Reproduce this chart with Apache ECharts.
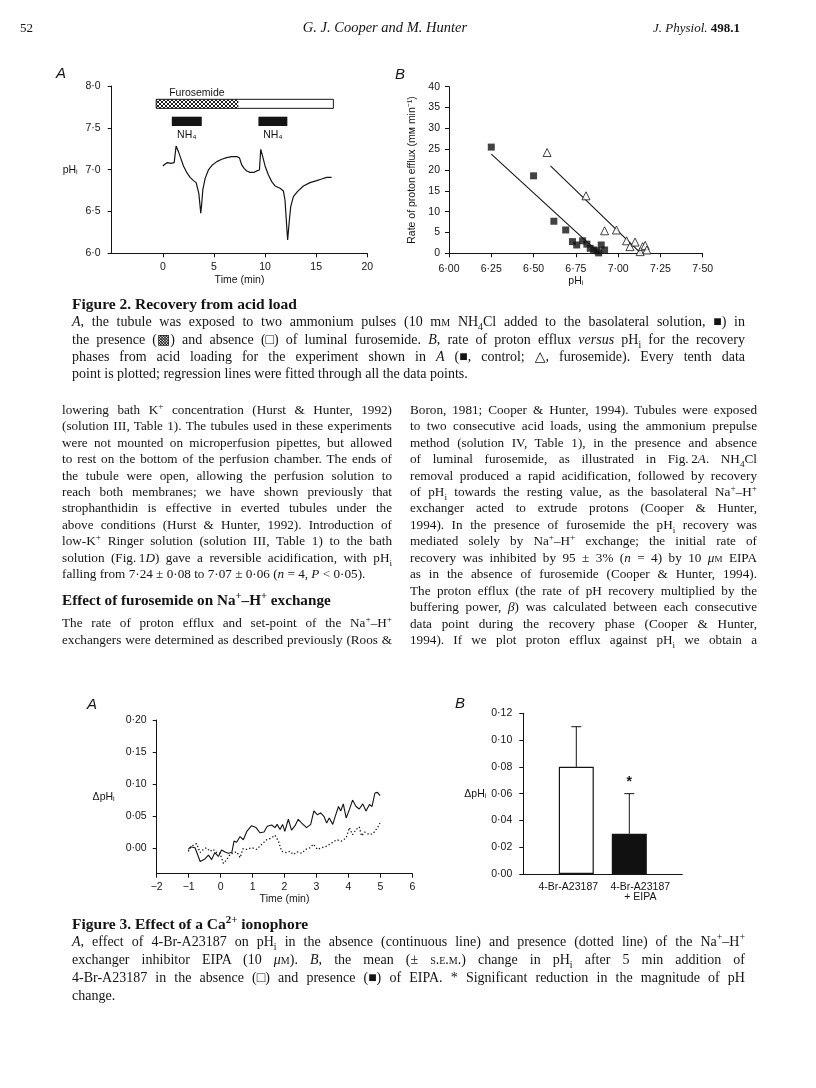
<!DOCTYPE html>
<html><head><meta charset="utf-8">
<script src="https://cdn.jsdelivr.net/npm/echarts@6/dist/echarts.min.js"></script>
<style>
html,body{margin:0;padding:0;background:#fff;}
#page{position:relative;width:816px;height:1088px;overflow:hidden;background:#fff;}
#chart{position:absolute;left:0;top:0;width:816px;height:1088px;}
.t{position:absolute;white-space:pre;line-height:1;color:#141414;font-family:"Liberation Serif","DejaVu Serif",serif;transform-origin:0 0;}
.t sup,.t sub{line-height:0;font-size:70%;}
.body{font-size:13.2px;}
.cap{font-size:14px;}
.capt{font-size:15.5px;font-weight:bold;}
.head{font-size:15.2px;font-weight:bold;}
.hdr{font-size:13px;}
.hdrm{font-size:14.5px;}
.sc{font-variant:small-caps;}
</style></head>
<body><div id="page"><div id="chart"></div></div>
<script>
// ---------- Figure 2A data (time in min, pHi) ----------
const fig2aTime = [0.00,0.23,0.46,0.78,1.11,1.30,1.53,1.76,2.02,2.35,2.67,3.00,3.26,3.39,3.52,3.65,3.71,3.81,3.91,4.14,4.46,4.85,5.28,5.77,6.25,6.74,7.23,7.49,7.72,7.95,8.21,8.53,8.93,9.25,9.45,9.58,9.77,10.00,10.33,10.65,10.98,11.47,11.79,11.95,12.12,12.21,12.35,12.51,12.77,13.16,13.75,14.40,15.05,15.54,16.03,16.51];
const fig2aPH   = [7.044,7.068,7.084,7.076,7.084,7.283,7.215,7.135,7.044,6.964,6.908,6.869,6.845,6.829,6.717,6.558,6.478,6.598,6.757,6.896,6.996,7.056,7.096,7.124,7.143,7.155,7.155,7.143,7.056,7.016,6.984,6.968,6.968,6.988,6.996,7.243,7.155,7.044,6.936,6.857,6.805,6.777,6.745,6.637,6.319,6.159,6.359,6.558,6.677,6.737,6.805,6.845,6.869,6.888,6.908,6.908];
const fig2aXTicks = [0,5,10,15,20];
const furoBar = [-0.65, 7.39, 16.68];
const furoBand = [7.733, 7.841];
const nh4Start = [0.88, 9.35];
const nh4End = [3.81, 12.18];
const nh4Band = [7.522, 7.633];
const nh4LabelPH = 7.414;
const furoLabel = [0.62, 7.913];

// ---------- Figure 2B data (pHi, proton efflux) ----------
const ctrlPH   = [6.25,6.50,6.62,6.69,6.73,6.755,6.79,6.815,6.835,6.855,6.875,6.885,6.90,6.92];
const ctrlRate = [25.5,18.6,7.7,5.6,2.8,2.0,3.0,2.2,1.2,0.8,0.6,0.1,2.0,0.8];
const furoPH   = [6.58,6.81,6.92,6.99,7.05,7.07,7.10,7.13,7.145,7.16,7.17];
const furoRate = [24.2,13.8,5.4,5.6,3.0,1.6,2.7,0.4,1.6,1.9,0.8];
const ctrlFitPH = [6.25,6.89], ctrlFitRate = [23.8,0];
const furoFitPH = [6.60,7.135], furoFitRate = [21.0,0];

// ---------- Figure 3A data (time in min, delta pHi) ----------
const ionoTime = [-1.01,-0.94,-0.80,-0.64,-0.49,-0.38,-0.28,-0.18,-0.07,0.03,0.14,0.24,0.35,0.42,0.50,0.61,0.71,0.82,0.97,1.11,1.23,1.36,1.46,1.60,1.70,1.77,1.86,1.94,2.01,2.12,2.22,2.33,2.43,2.54,2.69,2.82,2.92,3.03,3.13,3.24,3.32,3.40,3.51,3.59,3.69,3.76,3.84,3.93,4.03,4.13,4.24,4.34,4.45,4.55,4.66,4.74,4.83,4.91,4.99];
const ionoDPH  = [-0.002,0.002,0.0005,-0.021,-0.017,-0.011,-0.018,-0.007,-0.013,-0.003,-0.006,-0.008,-0.007,0.011,0.009,0.018,0.013,0.026,0.035,0.032,0.024,0.025,0.034,0.036,0.032,0.037,0.029,0.037,0.026,0.045,0.028,0.035,0.045,0.039,0.032,0.037,0.058,0.052,0.055,0.049,0.039,0.047,0.037,0.050,0.065,0.058,0.069,0.047,0.060,0.075,0.065,0.061,0.069,0.058,0.068,0.065,0.086,0.087,0.082];
const eipaTime = [-1.01,-0.91,-0.75,-0.64,-0.54,-0.44,-0.33,-0.23,-0.13,-0.02,0.09,0.19,0.30,0.40,0.51,0.61,0.70,0.82,0.98,1.13,1.29,1.44,1.60,1.70,1.81,1.91,2.05,2.17,2.28,2.40,2.54,2.67,2.80,2.90,3.03,3.16,3.32,3.48,3.63,3.79,3.93,4.03,4.13,4.24,4.34,4.41,4.51,4.66,4.78,4.91,4.99];
const eipaDPH  = [-0.005,0.003,0.007,-0.007,-0.002,0.0005,-0.005,-0.002,-0.007,-0.008,-0.024,-0.018,-0.010,-0.007,-0.006,-0.015,-0.001,-0.002,0.0005,-0.002,0.006,0.013,0.016,0.020,0.011,-0.005,-0.007,-0.005,-0.010,-0.006,-0.008,-0.002,0.0005,0.006,-0.002,0.0005,0.003,0.008,0.013,0.011,0.016,0.032,0.021,0.029,0.033,0.019,0.025,0.021,0.023,0.032,0.039];
const fig3aYTicks = [0,0.05,0.10,0.15,0.20];

// ---------- Figure 3B data ----------
const barCats  = ['4-Br-A23187', '4-Br-A23187\n+ EIPA'];
const barMeans = [0.08, 0.03];
const barSEM   = [0.03, 0.03];
const barColors = ['#ffffff', '#111111'];
const sigMark = ['', '*'];

// ---------- page text ----------
const headerLeft = '52';
const headerMid = '<i>G. J. Cooper and M. Hunter</i>';
const headerRight = '<i>J. Physiol.</i> <b>498.1</b>';
const fig2Title = 'Figure 2. Recovery from acid load';
const fig2Caption = [
 '<i>A</i>, the tubule was exposed to two ammonium pulses (10 m<span class="sc">m</span> NH<sub>4</sub>Cl added to the basolateral solution, ■) in',
 'the presence (▩) and absence (□) of luminal furosemide. <i>B</i>, rate of proton efflux <i>versus</i> pH<sub>i</sub> for the recovery',
 'phases from acid loading for the experiment shown in <i>A</i> (■, control; △, furosemide). Every tenth data',
 'point is plotted; regression lines were fitted through all the data points.'];
const leftCol = [
 'lowering bath K<sup>+</sup> concentration (Hurst &amp; Hunter, 1992)',
 '(solution III, Table 1). The tubules used in these experiments',
 'were not mounted on microperfusion pipettes, but allowed',
 'to rest on the bottom of the perfusion chamber. The ends of',
 'the tubule were open, allowing the perfusion solution to',
 'reach both membranes; we have shown previously that',
 'strophanthidin is effective in everted tubules under the',
 'above conditions (Hurst &amp; Hunter, 1992). Introduction of',
 'low-K<sup>+</sup> Ringer solution (solution III, Table 1) to the bath',
 'solution (Fig.\u20091<i>D</i>) gave a reversible acidification, with pH<sub>i</sub>',
 'falling from 7·24 ± 0·08 to 7·07 ± 0·06 (<i>n</i> = 4, <i>P</i> &lt; 0·05).'];
const leftHeading = 'Effect of furosemide on Na<sup>+</sup>–H<sup>+</sup> exchange';
const leftCol2 = [
 'The rate of proton efflux and set-point of the Na<sup>+</sup>–H<sup>+</sup>',
 'exchangers were determined as described previously (Roos &amp;'];
const rightCol = [
 'Boron, 1981; Cooper &amp; Hunter, 1994). Tubules were exposed',
 'to two consecutive acid loads, using the ammonium prepulse',
 'method (solution IV, Table 1), in the presence and absence',
 'of luminal furosemide, as illustrated in Fig.\u20092<i>A</i>. NH<sub>4</sub>Cl',
 'removal produced a rapid acidification, followed by recovery',
 'of pH<sub>i</sub> towards the resting value, as the basolateral Na<sup>+</sup>–H<sup>+</sup>',
 'exchanger acted to extrude protons (Cooper &amp; Hunter,',
 '1994). In the presence of furosemide the pH<sub>i</sub> recovery was',
 'mediated solely by Na<sup>+</sup>–H<sup>+</sup> exchange; the initial rate of',
 'recovery was inhibited by 95 ± 3% (<i>n</i> = 4) by 10 <i>μ</i><span class="sc">m</span> EIPA',
 'as in the absence of furosemide (Cooper &amp; Hunter, 1994).',
 'The proton efflux (the rate of pH recovery multiplied by the',
 'buffering power, <i>β</i>) was calculated between each consecutive',
 'data point during the recovery phase (Cooper &amp; Hunter,',
 '1994). If we plot proton efflux against pH<sub>i</sub> we obtain a'];
const fig3Title = 'Figure 3. Effect of a Ca<sup>2+</sup> ionophore';
const fig3Caption = [
 '<i>A</i>, effect of 4-Br-A23187 on pH<sub>i</sub> in the absence (continuous line) and presence (dotted line) of the Na<sup>+</sup>–H<sup>+</sup>',
 'exchanger inhibitor EIPA (10 <i>μ</i><span class="sc">m</span>). <i>B</i>, the mean (± <span class="sc">s.e.m.</span>) change in pH<sub>i</sub> after 5 min addition of',
 '4-Br-A23187 in the absence (□) and presence (■) of EIPA. * Significant reduction in the magnitude of pH',
 'change.'];

// ---------- text placement ----------
const page = document.getElementById('page');
function addLine(html, x, yc, w, cls, mode){
  const d = document.createElement('div');
  d.className = 't ' + cls; d.innerHTML = html; page.appendChild(d);
  const fs = parseFloat(getComputedStyle(d).fontSize);
  d.style.top = (yc - fs*0.55) + 'px';
  const nat = d.getBoundingClientRect().width;
  if (mode === 'center') d.style.left = (x - nat/2) + 'px';
  else if (mode === 'right') d.style.left = (x - nat) + 'px';
  else d.style.left = x + 'px';
  if (mode === 'justify') {
    const n = (d.textContent.match(/ /g) || []).length;
    if (n > 0) {
      let ws = (w - nat) / n;
      if (ws < -1.0) {
        ws = -1.0;
        d.style.transform = 'scaleX(' + (w / (nat + ws*n)) + ')';
      }
      d.style.wordSpacing = ws + 'px';
    }
  }
}
addLine(headerLeft, 20, 28, 0, 'hdr', 'left');
addLine(headerMid, 385, 28, 0, 'hdrm', 'center');
addLine(headerRight, 740, 28, 0, 'hdr', 'right');

const capX = 72, capW = 673;
addLine(fig2Title, capX, 305, 0, 'capt', 'left');
fig2Caption.forEach((h,i)=>addLine(h, capX, 323 + i*17.3, capW, 'cap', i < fig2Caption.length-1 ? 'justify' : 'left'));

const LX = 62, LW = 330, RX = 410, RW = 347, Y0 = 410, DY = 16.45;
leftCol.forEach((h,i)=>addLine(h, LX, Y0 + i*DY, LW, 'body', i < leftCol.length-1 ? 'justify' : 'left'));
addLine(leftHeading, LX, 600, 0, 'head', 'left');
leftCol2.forEach((h,i)=>addLine(h, LX, 623.5 + i*DY, LW, 'body', 'justify'));
rightCol.forEach((h,i)=>addLine(h, RX, Y0 + i*DY, RW, 'body', 'justify'));

addLine(fig3Title, capX, 925, 0, 'capt', 'left');
fig3Caption.forEach((h,i)=>addLine(h, capX, 943 + i*18, capW, 'cap', i < fig3Caption.length-1 ? 'justify' : 'left'));

// ---------- chart ----------
const FONT = 'Liberation Sans, Arial, Helvetica, sans-serif';
const INK = '#141414';
const lab = (extra) => Object.assign({fontFamily: FONT, fontSize: 10.5, color: INK}, extra || {});
const axLine = {show: true, onZero: false, lineStyle: {color: INK, width: 1}};
const axTick = (cv) => { const o = {show: true, length: 4, lineStyle: {color: INK, width: 1}}; if (cv) o.customValues = cv; return o; };
const dot = (d) => (v) => v.toFixed(d).replace('.', '·').replace('-', '−');

const hatch = document.createElement('canvas'); hatch.width = 4; hatch.height = 4;
(function(){ const g = hatch.getContext('2d'); g.fillStyle = '#fff'; g.fillRect(0,0,4,4); g.fillStyle = '#222';
  [[0,0],[1,1],[2,2],[3,3],[3,0],[2,1],[1,2],[0,3]].forEach(p => g.fillRect(p[0], p[1], 1, 1)); })();

const grids = [
  {left: 111.7, top: 86, width: 255.6, height: 167.3},
  {left: 449, top: 86.7, width: 253.7, height: 166.6},
  {left: 156.7, top: 720, width: 255.6, height: 153.7},
  {left: 523.3, top: 713.3, width: 159, height: 160.7}
].map(g => Object.assign(g, {containLabel: false, outerBoundsMode: 'none'}));

const cats3b = [''].concat(barCats, ['']);
const catRich = {
  a: {fontFamily: FONT, fontSize: 10.5, color: INK, lineHeight: 10, padding: [0, 16, 0, 0], align: 'center'},
  b: {fontFamily: FONT, fontSize: 10.5, color: INK, lineHeight: 10, padding: [0, 0, 0, 22], align: 'center'}
};

const option = {
  animation: false,
  backgroundColor: 'transparent',
  grid: grids,
  xAxis: [
    {gridIndex: 0, type: 'value', min: -5, max: 20, interval: 5, axisLine: axLine, axisTick: axTick(fig2aXTicks),
     axisLabel: lab({margin: 8, customValues: fig2aXTicks, formatter: v => String(v)}), splitLine: {show: false},
     name: 'Time (min)', nameLocation: 'middle', nameGap: 21, nameTextStyle: lab({verticalAlign: 'top'})},
    {gridIndex: 1, type: 'value', min: 6, max: 7.5, interval: 0.25, axisLine: axLine, axisTick: axTick(),
     axisLabel: lab({margin: 10, formatter: dot(2)}), splitLine: {show: false},
     name: 'pHᵢ', nameLocation: 'middle', nameGap: 19, nameTextStyle: lab({verticalAlign: 'top'})},
    {gridIndex: 2, type: 'value', min: -2, max: 6, interval: 1, axisLine: axLine, axisTick: axTick(),
     axisLabel: lab({margin: 8, formatter: v => String(v).replace('-', '−')}), splitLine: {show: false},
     name: 'Time (min)', nameLocation: 'middle', nameGap: 20, nameTextStyle: lab({verticalAlign: 'top'})},
    {gridIndex: 3, type: 'category', data: cats3b, boundaryGap: false, axisLine: axLine, axisTick: {show: false},
     axisLabel: lab({margin: 8, interval: 0, lineHeight: 10, rich: catRich,
       formatter: (v, i) => v === '' ? '' : v.split('\n').map(s => '{' + (i === 1 ? 'a' : 'b') + '|' + s + '}').join('\n')}),
     splitLine: {show: false}}
  ],
  yAxis: [
    {gridIndex: 0, type: 'value', min: 6, max: 8, interval: 0.5, axisLine: axLine, axisTick: axTick(),
     axisLabel: lab({margin: 11, formatter: dot(1)}), splitLine: {show: false},
     name: 'pHᵢ', nameLocation: 'middle', nameRotate: 0, nameGap: 34, nameTextStyle: lab({align: 'right', verticalAlign: 'middle'})},
    {gridIndex: 1, type: 'value', min: 0, max: 40, interval: 5, axisLine: axLine, axisTick: axTick(),
     axisLabel: lab({margin: 9}), splitLine: {show: false},
     name: 'Rate of proton efflux (m\u1D0D min⁻¹)', nameLocation: 'middle', nameRotate: 90, nameGap: 31, nameTextStyle: lab()},
    {gridIndex: 2, type: 'value', min: -0.04, max: 0.2, axisLine: axLine, axisTick: axTick(fig3aYTicks),
     axisLabel: lab({margin: 10, customValues: fig3aYTicks, formatter: dot(2)}), splitLine: {show: false},
     name: 'ΔpHᵢ', nameLocation: 'middle', nameRotate: 0, nameGap: 42, nameTextStyle: lab({align: 'right', verticalAlign: 'middle'})},
    {gridIndex: 3, type: 'value', min: 0, max: 0.12, interval: 0.02, axisLine: axLine, axisTick: axTick(),
     axisLabel: lab({margin: 11, formatter: dot(2)}), splitLine: {show: false},
     name: 'ΔpHᵢ', nameLocation: 'middle', nameRotate: 0, nameGap: 36, nameTextStyle: lab({align: 'right', verticalAlign: 'middle'})}
  ],
  graphic: [
    {type: 'text', left: 56, top: 66, style: {text: 'A', font: 'italic 15px ' + FONT, fill: INK}},
    {type: 'text', left: 395, top: 67, style: {text: 'B', font: 'italic 15px ' + FONT, fill: INK}},
    {type: 'text', left: 87, top: 697, style: {text: 'A', font: 'italic 15px ' + FONT, fill: INK}},
    {type: 'text', left: 455, top: 696, style: {text: 'B', font: 'italic 15px ' + FONT, fill: INK}}
  ],
  series: [
    {type: 'line', xAxisIndex: 0, yAxisIndex: 0, data: fig2aTime.map((t,i)=>[t, fig2aPH[i]]), showSymbol: false,
     lineStyle: {color: INK, width: 1.2}, silent: true},
    {type: 'custom', xAxisIndex: 0, yAxisIndex: 0, silent: true,
     data: [[furoBar[0], furoBar[1], furoBar[2], furoBand[0], furoBand[1]]],
     renderItem: (p, api) => {
       const a = api.coord([api.value(0), api.value(4)]), b = api.coord([api.value(1), api.value(3)]), c = api.coord([api.value(2), api.value(3)]);
       const lp = api.coord(furoLabel);
       return {type: 'group', children: [
         {type: 'rect', shape: {x: a[0], y: a[1], width: b[0]-a[0], height: b[1]-a[1]}, style: {fill: {image: hatch, repeat: 'repeat'}, stroke: null}},
         {type: 'rect', shape: {x: a[0], y: a[1], width: c[0]-a[0], height: c[1]-a[1]}, style: {fill: 'none', stroke: INK, lineWidth: 1}},
         {type: 'text', style: {text: 'Furosemide', x: lp[0], y: lp[1], font: '10.5px ' + FONT, fill: INK, align: 'left', verticalAlign: 'middle'}}
       ]};
     }},
    {type: 'custom', xAxisIndex: 0, yAxisIndex: 0, silent: true,
     data: nh4Start.map((s,i)=>[s, nh4End[i], nh4Band[0], nh4Band[1]]),
     renderItem: (p, api) => {
       const a = api.coord([api.value(0), api.value(3)]), b = api.coord([api.value(1), api.value(2)]);
       const l = api.coord([(api.value(0)+api.value(1))/2, nh4LabelPH]);
       return {type: 'group', children: [
         {type: 'rect', shape: {x: a[0], y: a[1], width: b[0]-a[0], height: b[1]-a[1]}, style: {fill: INK}},
         {type: 'text', style: {text: 'NH₄', x: l[0], y: l[1], font: '10.5px ' + FONT, fill: INK, align: 'center', verticalAlign: 'middle'}}
       ]};
     }},
    {type: 'scatter', xAxisIndex: 1, yAxisIndex: 1, data: ctrlPH.map((x,i)=>[x, ctrlRate[i]]), symbol: 'rect', symbolSize: 7,
     itemStyle: {color: INK}, silent: true},
    {type: 'scatter', xAxisIndex: 1, yAxisIndex: 1, data: furoPH.map((x,i)=>[x, furoRate[i]]), symbol: 'triangle', symbolSize: 8,
     itemStyle: {color: '#fff', borderColor: INK, borderWidth: 1}, silent: true, z: 3},
    {type: 'line', xAxisIndex: 1, yAxisIndex: 1, data: ctrlFitPH.map((x,i)=>[x, ctrlFitRate[i]]), showSymbol: false,
     lineStyle: {color: INK, width: 1.1}, silent: true},
    {type: 'line', xAxisIndex: 1, yAxisIndex: 1, data: furoFitPH.map((x,i)=>[x, furoFitRate[i]]), showSymbol: false,
     lineStyle: {color: INK, width: 1.1}, silent: true},
    {type: 'line', xAxisIndex: 2, yAxisIndex: 2, data: ionoTime.map((t,i)=>[t, ionoDPH[i]]), showSymbol: false,
     lineStyle: {color: INK, width: 1.1}, silent: true},
    {type: 'line', xAxisIndex: 2, yAxisIndex: 2, data: eipaTime.map((t,i)=>[t, eipaDPH[i]]), showSymbol: false,
     lineStyle: {color: INK, width: 1.3, type: [1.3, 2.2]}, silent: true},
    {type: 'bar', xAxisIndex: 3, yAxisIndex: 3, barWidth: 35, silent: true,
     data: [null].concat(barMeans.map((m,i)=>({value: m, itemStyle: {color: barColors[i], borderColor: INK, borderWidth: 1.2}})), [null])},
    {type: 'custom', xAxisIndex: 3, yAxisIndex: 3, silent: true, z: 5,
     data: barMeans.map((m,i)=>[i+1, m, m + barSEM[i]]),
     renderItem: (p, api) => {
       const lo = api.coord([api.value(0), api.value(1)]), hi = api.coord([api.value(0), api.value(2)]);
       const k = p.dataIndex;
       const ch = [
         {type: 'line', shape: {x1: lo[0], y1: lo[1], x2: hi[0], y2: hi[1]}, style: {stroke: INK, lineWidth: 1}},
         {type: 'line', shape: {x1: hi[0]-5, y1: hi[1], x2: hi[0]+5, y2: hi[1]}, style: {stroke: INK, lineWidth: 1}}
       ];
       if (sigMark[k]) ch.push({type: 'text', style: {text: sigMark[k], x: hi[0], y: hi[1]-12, font: 'bold 14px ' + FONT, fill: INK, align: 'center', verticalAlign: 'middle'}});
       return {type: 'group', children: ch};
     }}
  ]
};
const chart = echarts.init(document.getElementById('chart'), null, {renderer: 'canvas'});
chart.setOption(option);
</script>
</body></html>
